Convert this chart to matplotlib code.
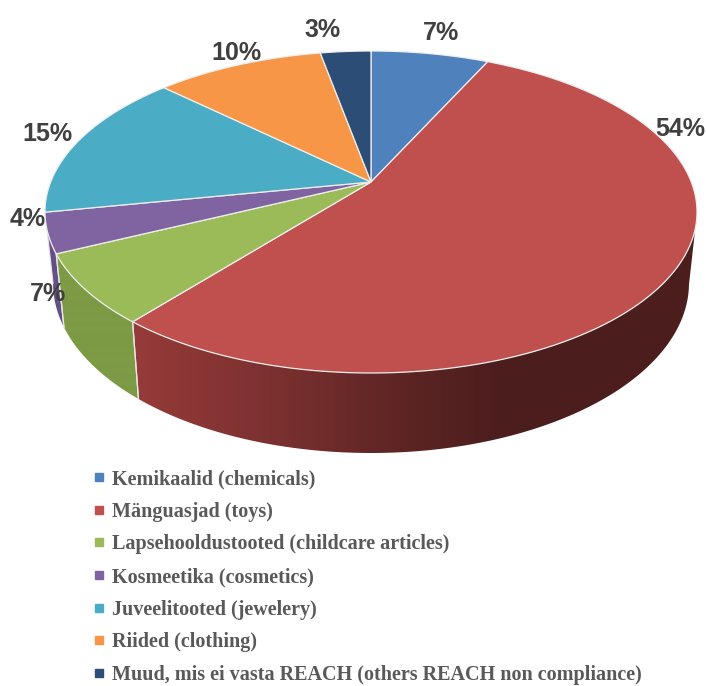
import numpy as np
import matplotlib
matplotlib.use('Agg')
import matplotlib.pyplot as plt
from matplotlib.colors import to_rgb
from matplotlib.lines import Line2D
from matplotlib.patches import Polygon

# Chart data
labels = ['Kemikaalid (chemicals)', 'Mänguasjad (toys)',
          'Lapsehooldustooted (childcare articles)', 'Kosmeetika (cosmetics)',
          'Juveelitooted (jewelery)', 'Riided (clothing)',
          'Muud, mis ei vasta REACH (others REACH non compliance)']
values = [7, 54, 7, 4, 15, 10, 3]
colors = ['#4f81bd', '#c0504d', '#9bbb59', '#8064a2', '#4bacc6', '#f79646', '#2c4d75']

# Side wall shading of each wedge: colour stops over image x
wall_x = [133, 270, 410, 500, 697]
wall_red = ['#963b39', '#7b3130', '#5c2423', '#4b1e1d', '#4b1e1d']
wall_flat = ['#3b6191', None, '#7d9a45', '#654f86', '#3a8499', '#bd7235', '#213a58']

# Where the percent labels sit, in image pixels
label_pos = [(441, 33), (680, 129), (48, 294), (28, 219), (47, 134), (236, 53), (323, 30)]

# Perspective of the pie, in image pixels
top_ell = (371, 212, 326, 161)
bottom_ell = (371, 283, 318, 170)
pivot_shift = 30 / 161


# Turn a clockwise angle from 12 o'clock into a point on the unit ellipse.
# The pivot is off centre because of the tilt, so the circle gets a projective map.
def project(theta):
    u = np.sin(theta)
    v = np.cos(theta)
    d = 1 + pivot_shift * v
    return u * np.sqrt(1 - pivot_shift ** 2) / d, (v + pivot_shift) / d


def on_ellipse(theta, ell):
    p, q = project(theta)
    return ell[0] + ell[2] * p, ell[1] - ell[3] * q


# One pixel high strip of colour for imshow, running over the image width
def wall_strip(i):
    xs = np.arange(706)
    if wall_flat[i] is not None:
        return np.tile(to_rgb(wall_flat[i]), (1, 706, 1))
    stops = np.array([to_rgb(c) for c in wall_red])
    strip = [np.interp(xs, wall_x, stops[:, k]) for k in range(3)]
    return np.dstack(strip)


fig = plt.figure(figsize=(7.06, 6.86), dpi=100)
ax = fig.add_axes([0, 0, 1, 1])

edges = np.cumsum([0] + values) / sum(values) * 2 * np.pi
pivot = (top_ell[0], top_ell[1] - top_ell[3] * pivot_shift)

# Side walls first, only the part facing the viewer
for i in range(len(values)):
    t = np.linspace(edges[i], edges[i + 1], 400)
    t = t[project(t)[1] <= 0]
    if len(t) < 2:
        continue
    x_top, y_top = on_ellipse(t, top_ell)
    x_bot, y_bot = on_ellipse(t, bottom_ell)
    outline = list(zip(x_top, y_top)) + list(zip(x_bot[::-1], y_bot[::-1]))
    clip = Polygon(outline, closed=True, transform=ax.transData, facecolor='none', edgecolor='none')
    ax.add_patch(clip)
    im = ax.imshow(wall_strip(i), extent=(0, 706, 686, 0), aspect='auto', zorder=2,
                   interpolation='bilinear')
    im.set_clip_path(clip)

    # Light seam where two front walls meet
    for k in (0, -1):
        if abs(t[k] - edges[i]) < 1e-9 or abs(t[k] - edges[i + 1]) < 1e-9:
            ax.plot([x_top[k], x_bot[k]], [y_top[k], y_bot[k]], color='#e6e6e6', lw=0.9, zorder=3)

ax.set_xlim(0, 706)
ax.set_ylim(686, 0)
ax.axis('off')

# Top of the pie
for i in range(len(values)):
    t = np.linspace(edges[i], edges[i + 1], 200)
    x_top, y_top = on_ellipse(t, top_ell)
    pts = [pivot] + list(zip(x_top, y_top))
    ax.add_patch(Polygon(pts, closed=True, facecolor=colors[i], edgecolor='#eeeeee',
                         linewidth=0.9, zorder=4))

# Percent labels
for v, (x, y) in zip(values, label_pos):
    ax.text(x, y, f'{v}%', ha='center', va='center', fontsize=18, fontweight='bold',
            family='Liberation Sans', color='#404040', zorder=6)

# Legend
handles = [Line2D([], [], marker='s', linestyle='none', markersize=5.5, color=c) for c in colors]
ax.legend(handles, labels, loc='upper left', bbox_to_anchor=(89 / 706, 1 - 469 / 686),
          frameon=False, ncol=1, handletextpad=0.13, handlelength=1.0, borderpad=0, borderaxespad=0,
          labelspacing=0.63, labelcolor='#595959',
          prop={'family': 'Liberation Serif', 'weight': 'bold', 'size': 14.5})

fig.savefig('out.png', dpi=100)
